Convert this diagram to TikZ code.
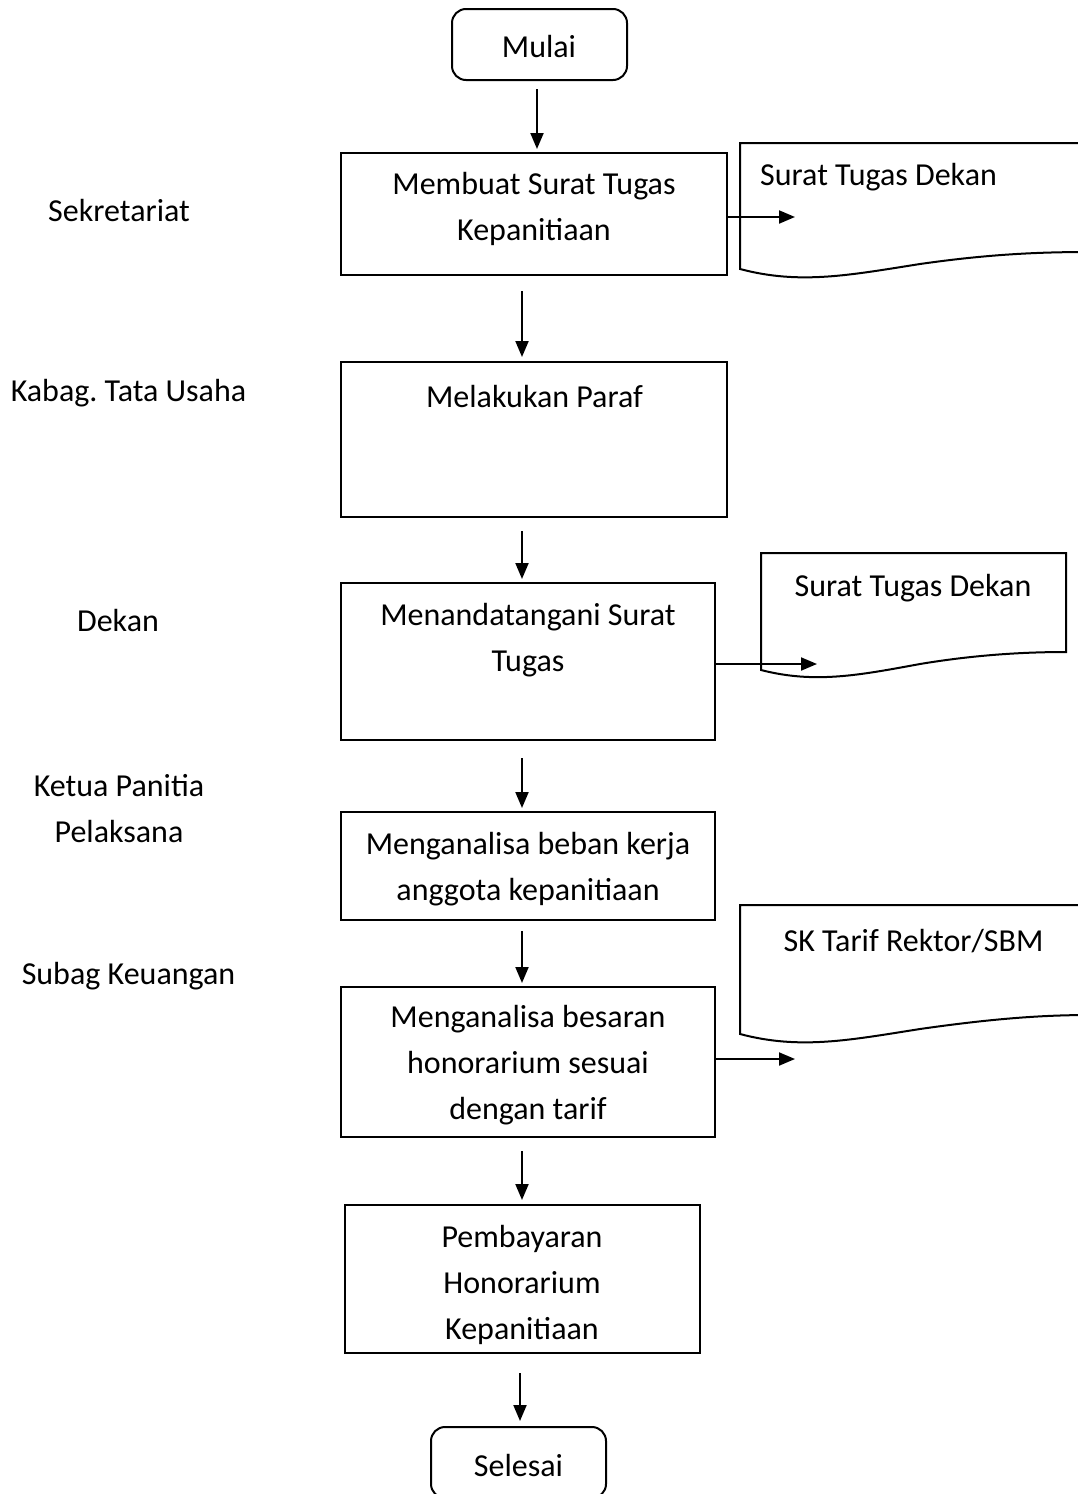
\documentclass[tikz,border=0pt]{standalone}
\usepackage{fontspec}
\setmainfont{Carlito}
\usetikzlibrary{arrows.meta}
\frenchspacing
\begin{document}
\begin{tikzpicture}[x=1pt,y=-1pt,
  txt/.style={font=\fontsize{32}{46}\selectfont, inner sep=0pt, align=center, yshift=-3pt},
  box/.style={draw, line width=2pt, inner sep=0pt},
  term/.style={box, rounded corners=14pt, minimum width=175, minimum height=71},
  arr/.style={line width=2pt, -{Triangle[length=16pt,width=13pt]}},
  doc/.style={draw, line width=2pt, line join=miter}]
\clip (0,0) rectangle (1078,1494);
\fill[white] (0,0) rectangle (1078,1494);

% process boxes
\node[term] (mulai) at (539.5,44.5) {};
\node[box, minimum width=386, minimum height=122] (b1) at (534,214) {};
\node[box, minimum width=386, minimum height=155] (b2) at (534,439.5) {};
\node[box, minimum width=374, minimum height=157] (b3) at (528,661.5) {};
\node[box, minimum width=374, minimum height=108] (b4) at (528,866) {};
\node[box, minimum width=374, minimum height=150] (b5) at (528,1062) {};
\node[box, minimum width=355, minimum height=148] (b6) at (522.5,1279) {};
\node[term] (selesai) at (518.5,1462.5) {};

% box texts
\node[txt] (tmulai) at (539,44) {Mulai};
\node[txt] (t1) at (534,206) {Membuat Surat Tugas\\Kepanitiaan};
\node[txt] (t2) at (534.5,394) {Melakukan Paraf};
\node[txt] (t3) at (528,637) {Menandatangani Surat\\Tugas};
\node[txt] (t4) at (528,866) {Menganalisa beban kerja\\anggota kepanitiaan};
\node[txt] (t5) at (528,1062.5) {Menganalisa besaran\\honorarium sesuai\\dengan tarif};
\node[txt] (t6) at (522,1282) {Pembayaran\\Honorarium\\Kepanitiaan};
\node[txt] (tselesai) at (518.5,1462) {Selesai};

% role labels
\node[txt] (r1) at (119,208) {Sekretariat};
\node[txt] (r2) at (128.5,390) {Kabag. Tata Usaha};
\node[txt] (r3) at (118,617) {Dekan};
\node[txt] (r4) at (119,806) {Ketua Panitia\\Pelaksana};
\node[txt] (r5) at (128.5,973) {Subag Keuangan};

% documents
\draw[doc] (1090,143) -- (740,143) -- (740,269)
  .. controls (800,285) and (850,275) .. (920,264)
  .. controls (990,254) and (1040,252) .. (1090,252);
\draw[doc] (761,553) -- (1066,553) -- (1066,652)
  .. controls (1030,652) and (980,654) .. (920,664)
  .. controls (860,675) and (815,684) .. (761,670) -- cycle;
\draw[doc] (1090,905) -- (740,905) -- (740,1034)
  .. controls (800,1050) and (850,1040) .. (920,1029)
  .. controls (990,1019) and (1040,1015) .. (1090,1015);
\node[txt, anchor=west] (d1) at (760,174) {Surat Tugas Dekan};
\node[txt] (d2) at (913,585) {Surat Tugas Dekan};
\node[txt] (d3) at (913.5,938) {SK Tarif Rektor/SBM};

% free ends of the output arrows
\coordinate (o1) at (795,217);
\coordinate (o2) at (817,664);
\coordinate (o3) at (795,1059);

% flow arrows
\draw[arr] ([xshift=-2.5pt]mulai.south) ++(0,8) -- ([xshift=3pt,yshift=3pt]b1.north);
\draw[arr] ([xshift=-12pt]b1.south) ++(0,15) -- ([xshift=-12pt,yshift=4pt]b2.north);
\draw[arr] ([xshift=-12pt]b2.south) ++(0,13) -- ([xshift=-6pt,yshift=3pt]b3.north);
\draw[arr] ([xshift=-6pt]b3.south) ++(0,17) -- ([xshift=-6pt,yshift=3pt]b4.north);
\draw[arr] ([xshift=-6pt]b4.south) ++(0,10) -- ([xshift=-6pt,yshift=3pt]b5.north);
\draw[arr] ([xshift=-6pt]b5.south) ++(0,13) -- ([xshift=-0.5pt,yshift=4pt]b6.north);
\draw[arr] ([xshift=-2.5pt]b6.south) ++(0,19) -- ([xshift=1.5pt,yshift=5pt]selesai.north);

\draw[arr] (b1.east |- o1) -- (o1);
\draw[arr] (b3.east |- o2) -- (o2);
\draw[arr] (b5.east |- o3) -- (o3);
\end{tikzpicture}
\end{document}
